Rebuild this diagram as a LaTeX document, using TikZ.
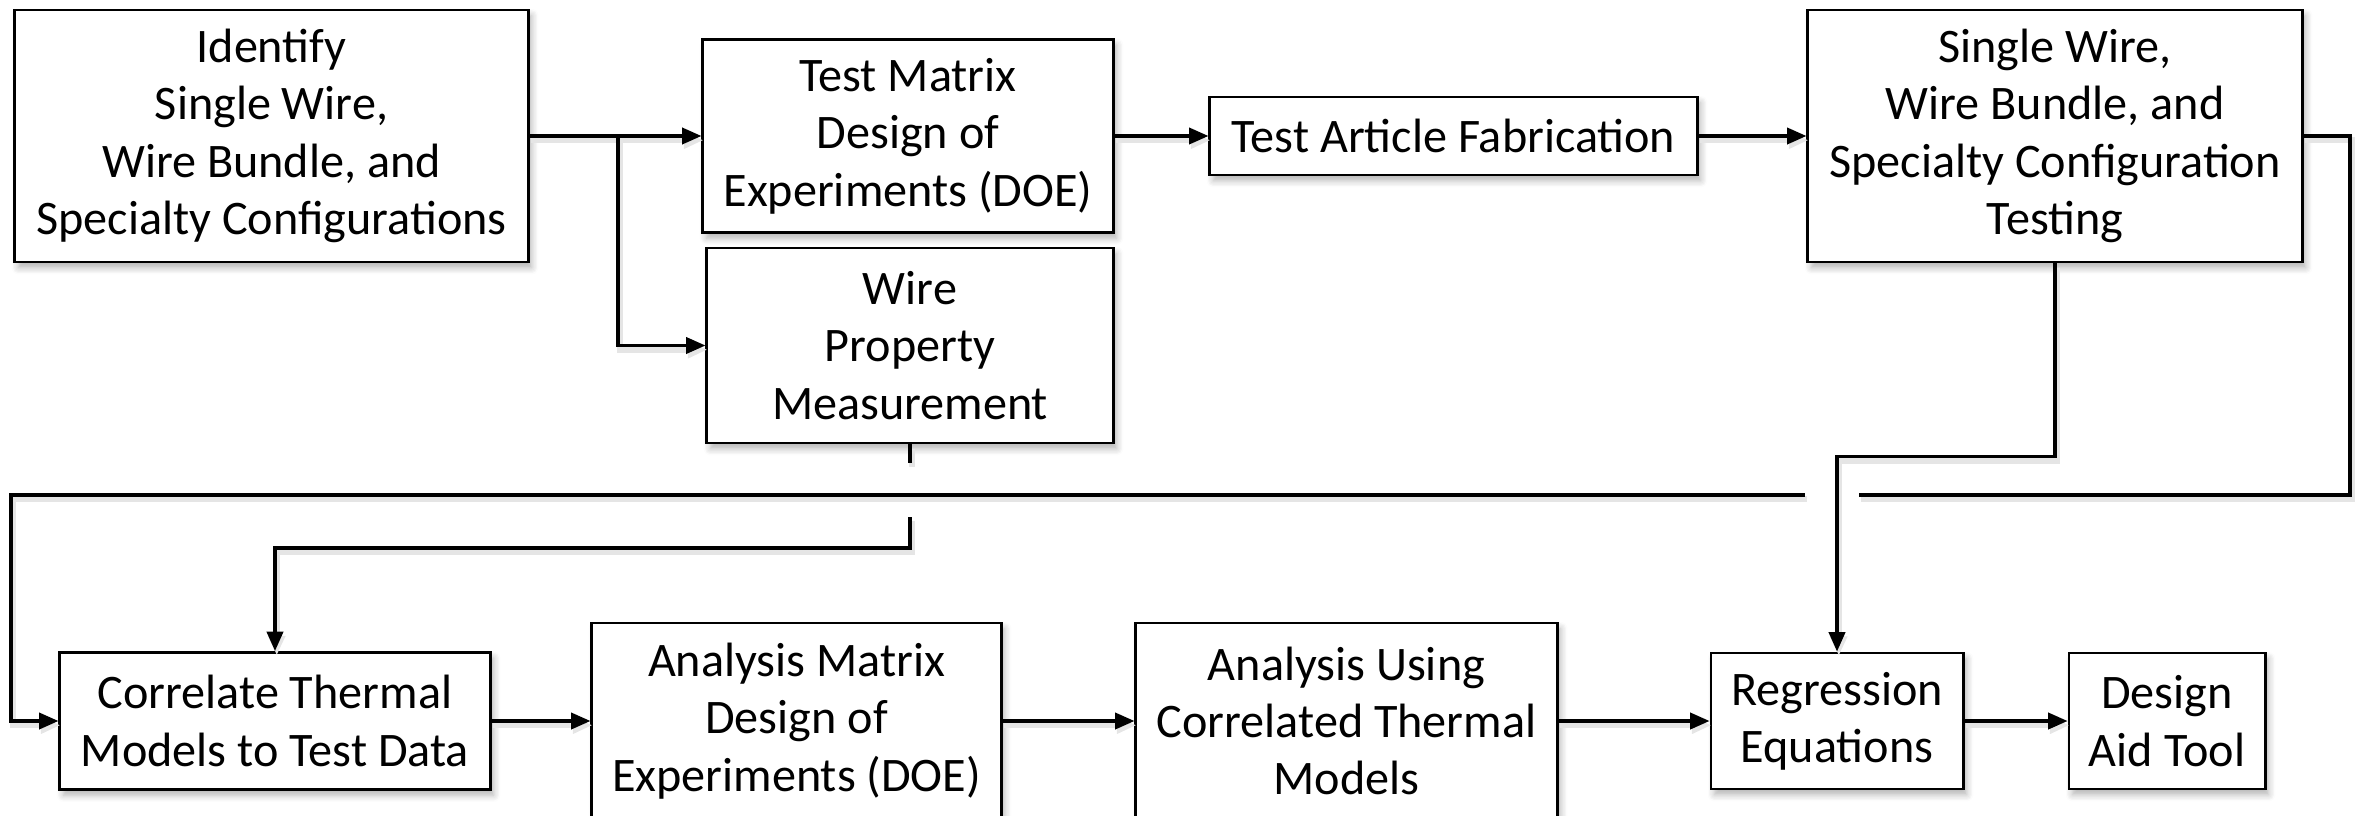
\documentclass[tikz,border=0pt]{standalone}
\usepackage{fontspec}
\setmainfont{Carlito}
\usetikzlibrary{arrows.meta, shadows.blur}

\begin{document}
\begin{tikzpicture}[x=0.01cm, y=-0.01cm,
    box/.style={draw=black, line width=0.8pt, fill=white, align=center, inner sep=0pt,
      font=\fontsize{13.7}{16.3}\selectfont,
      blur shadow={shadow xshift=1pt, shadow yshift=-1.6pt, shadow blur steps=6, shadow opacity=30}},
    link/.style={line width=0.9pt,
      preaction={draw=black!10, line width=1.6pt, transform canvas={xshift=0.5pt, yshift=-1.2pt}}},
    flow/.style={link, -{Triangle[length=5.5pt, width=4.6pt]}}]
  \useasboundingbox (0,0) rectangle (2364,815);
  % upper row
  \node[box, minimum width=5.13cm, minimum height=2.52cm] (idf) at (271.5,136) {Identify\\Single Wire,\\Wire Bundle, and\\Specialty Configurations};
  \node[box, minimum width=4.10cm, minimum height=1.93cm] (tmx) at (908,136) {Test Matrix\\Design of\\Experiments (DOE)};
  \node[box, minimum width=4.06cm, minimum height=1.95cm] (wpm) at (910,345.5) {Wire\\Property\\Measurement};
  \node[box, minimum width=4.87cm, minimum height=0.78cm] (taf) at (1453.5,136) {Test Article Fabrication};
  \node[box, minimum width=4.94cm, minimum height=2.52cm] (swt) at (2055,136) {Single Wire,\\Wire Bundle, and\\Specialty Configuration\\Testing};
  % lower row
  \node[box, minimum width=4.30cm, minimum height=1.37cm] (ctm) at (275,721) {Correlate Thermal\\Models to Test Data};
  \node[box, minimum width=4.09cm, minimum height=1.96cm] (amx) at (796.5,721) {Analysis Matrix\\Design of\\Experiments (DOE)};
  \node[box, minimum width=4.21cm, minimum height=1.96cm] (auc) at (1346.5,721) {Analysis Using\\Correlated Thermal\\Models};
  \node[box, minimum width=2.52cm, minimum height=1.36cm] (reg) at (1837,721) {Regression\\Equations};
  \node[box, minimum width=1.96cm, minimum height=1.36cm] (dat) at (2167,721) {Design\\Aid Tool};

  % top row arrows
  \coordinate (fork) at (618,136);
  \draw[flow] (idf) -- (tmx);
  \draw[flow] (fork) |- (wpm);
  \draw[flow] (tmx) -- (taf);
  \draw[flow] (taf) -- (swt);

  % long return loop, broken where the test line crosses
  \coordinate (loopR) at (2350,495);
  \coordinate (gapR) at (1859,495);
  \coordinate (gapL) at (1805,495);
  \coordinate (loopL) at (11,495);
  \draw[link] (swt.east) -| (loopR) -- (gapR);
  \draw[flow] (gapL) -- (loopL) |- (ctm.west);

  % property data hops over the loop
  \coordinate (hopT) at (910,463);
  \coordinate (hopB) at (910,517);
  \draw[link] (wpm.south) -- (hopT);
  \draw[flow] (hopB) -- ++(0,31) -| (ctm.north);

  % test data to regression
  \draw[flow] (swt.south) -- ++(0,193) -| (reg.north);

  % bottom row arrows
  \draw[flow] (ctm) -- (amx);
  \draw[flow] (amx) -- (auc);
  \draw[flow] (auc) -- (reg);
  \draw[flow] (reg) -- (dat);
\end{tikzpicture}
\end{document}
